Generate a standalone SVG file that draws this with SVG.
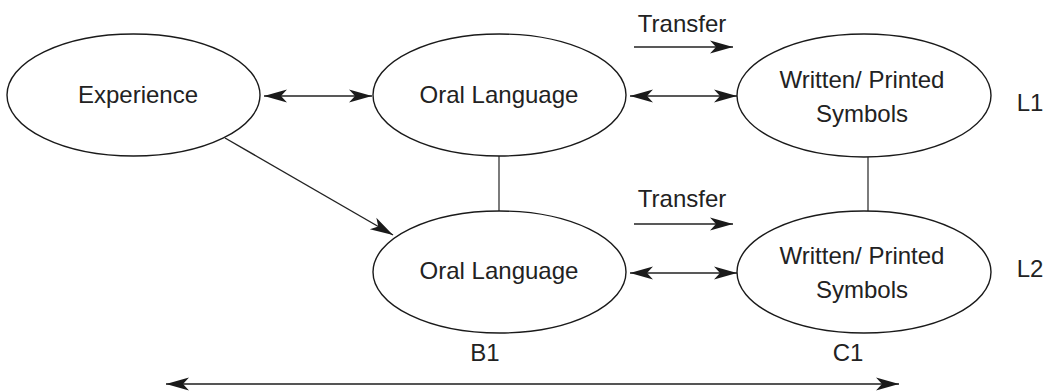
<svg xmlns="http://www.w3.org/2000/svg" width="1055" height="392" viewBox="0 0 1055 392">
<style>
.node ellipse{fill:#fff;stroke:#1a1a1a;stroke-width:1.4}
text{font-family:"Liberation Sans",Arial,sans-serif;font-size:24px;fill:#222;text-anchor:middle}
.c line{stroke:#222;stroke-width:1.4}
.c line.g{stroke:#444}
.c line.b{stroke:#555;stroke-width:2}
</style>
<defs>
<marker id="ah" markerUnits="userSpaceOnUse" viewBox="-24 -8 26 16" refX="0" refY="0" markerWidth="26" markerHeight="16" orient="auto-start-reverse">
<path d="M0,0 L-23,-6.5 L-17,0 L-23,6.5 Z" fill="#1a1a1a"/>
</marker>
</defs>
<g class="c" id="connectors">
<line x1="264" y1="96" x2="372" y2="96" marker-start="url(#ah)" marker-end="url(#ah)"/>
<line x1="630" y1="96" x2="737" y2="96" marker-start="url(#ah)" marker-end="url(#ah)"/>
<line x1="630" y1="273" x2="737" y2="273" marker-start="url(#ah)" marker-end="url(#ah)"/>
<line x1="634" y1="47" x2="733" y2="47" marker-end="url(#ah)"/>
<line x1="634" y1="224" x2="733" y2="224" marker-end="url(#ah)"/>
<line x1="225" y1="138" x2="393" y2="235" marker-end="url(#ah)"/>
<line class="g" x1="499" y1="156" x2="499" y2="211"/>
<line class="g" x1="868" y1="157" x2="868" y2="211"/>
<line class="b" x1="166" y1="384" x2="899" y2="384" marker-start="url(#ah)" marker-end="url(#ah)"/>
</g>
<g class="node" id="experience">
<ellipse cx="133.5" cy="95" rx="126.5" ry="61"/>
<text x="138" y="103">Experience</text>
</g>
<g class="node" id="oral1">
<ellipse cx="499.5" cy="95" rx="126.5" ry="61"/>
<text x="499" y="103">Oral Language</text>
</g>
<g class="node" id="written1">
<ellipse cx="864" cy="95.5" rx="127" ry="61.5"/>
<text x="862" y="88">Written/ Printed</text>
<text x="862" y="122">Symbols</text>
</g>
<g class="node" id="oral2">
<ellipse cx="499.5" cy="272" rx="126.5" ry="61"/>
<text x="499" y="279">Oral Language</text>
</g>
<g class="node" id="written2">
<ellipse cx="864" cy="272" rx="127" ry="61"/>
<text x="862" y="264">Written/ Printed</text>
<text x="862" y="298">Symbols</text>
</g>
<g id="labels">
<text x="682" y="32">Transfer</text>
<text x="682" y="207">Transfer</text>
<text x="1030" y="111">L1</text>
<text x="1030" y="277">L2</text>
<text x="485" y="361">B1</text>
<text x="848" y="361">C1</text>
</g>
</svg>
